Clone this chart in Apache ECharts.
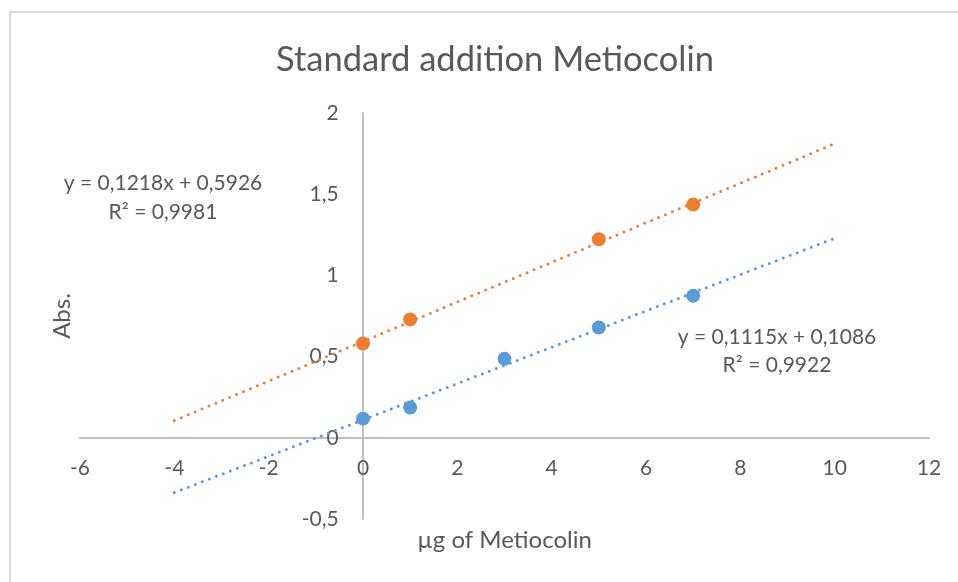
<!DOCTYPE html>
<html>
<head>
<meta charset="utf-8">
<script src="https://cdn.jsdelivr.net/npm/echarts@6/dist/echarts.min.js"></script>
<style>
html,body{margin:0;padding:0;background:#fff;}
#chart{width:958px;height:582px;}
</style>
</head>
<body>
<div id="chart"></div>
<script>
// Data
const blueX = [0, 1, 3, 5, 7];
const blueY = [0.118, 0.187, 0.486, 0.679, 0.874];
const orangeX = [0, 1, 5, 7];
const orangeY = [0.581, 0.729, 1.223, 1.436];
// trendline endpoints (x from -4 to 10)
const blueTrendX = [-4, 10];
const blueTrendY = [-0.337, 1.229];
const orangeTrendX = [-4, 10];
const orangeTrendY = [0.106, 1.811];
const blueEq = ['y = 0,1115x + 0,1086', 'R² = 0,9922'];
const orangeEq = ['y = 0,1218x + 0,5926', 'R² = 0,9981'];
const titleText = 'Standard addition Metiocolin';
const xName = 'µg of Metiocolin';
const yName = 'Abs.';
const xMin = -6, xMax = 12, xStep = 2;
const yMin = -0.5, yMax = 2, yStep = 0.5;

const BLUE = '#5B9BD5', ORANGE = '#ED7D31', TXT = '#595959', AX = '#BFBFBF';
const FONT = 'Lato, "Open Sans", sans-serif';
const zip = (xs, ys) => xs.map((x, i) => [x, ys[i]]);
const comma = v => String(v).replace('.', ',');

const chart = echarts.init(document.getElementById('chart'), null, {renderer: 'canvas'});
const dotted = c => ({color: c, width: 3, type: [0, 7.5], cap: 'round'});

// plot area: x from 80 to 929, y from 113 to 519; zero lines at x=362.7, y=437.7
const plot = {left: 80, right: 29, top: 113, bottom: 63};
const hidden = {axisLine: {show: false}, axisTick: {show: false}, axisLabel: {show: false}, splitLine: {show: false}};
const labelStyle = {fontFamily: FONT, fontSize: 21, color: TXT, formatter: comma};
const nameStyle = {fontFamily: FONT, fontSize: 24, color: TXT};

chart.setOption({
  backgroundColor: '#fff',
  animation: false,
  title: {
    text: titleText,
    left: 490, top: 37, textAlign: 'center',
    textStyle: {fontFamily: FONT, fontSize: 34.5, fontWeight: 'normal', color: TXT}
  },
  grid: [
    Object.assign({outerBoundsMode: 'none', containLabel: false}, plot),
    // helper grid whose bottom edge is the y=0 line (x tick labels + x name)
    {outerBoundsMode: 'none', containLabel: false, left: 80, right: 29, top: 113, bottom: 582 - 437.7},
    // helper grid whose left edge is the x=0 line (y tick labels + y name)
    {outerBoundsMode: 'none', containLabel: false, left: 362.7, right: 29, top: 113, bottom: 63}
  ],
  xAxis: [
    {gridIndex: 0, type: 'value', min: xMin, max: xMax, interval: xStep,
      axisLine: {onZero: true, lineStyle: {color: AX, width: 2}},
      axisTick: {show: false}, splitLine: {show: false}, axisLabel: {show: false}},
    Object.assign({gridIndex: 1, type: 'value', min: xMin, max: xMax, interval: xStep,
      name: xName, nameLocation: 'middle', nameGap: 91, nameTextStyle: nameStyle}, hidden,
      {axisLine: {show: false, onZero: false}, axisLabel: Object.assign({show: true, margin: 20}, labelStyle)}),
    Object.assign({gridIndex: 2, type: 'value', min: 0, max: xMax}, hidden, {axisLine: {show: false, onZero: false}})
  ],
  yAxis: [
    {gridIndex: 0, type: 'value', min: yMin, max: yMax, interval: yStep,
      axisLine: {show: true, onZero: true, lineStyle: {color: AX, width: 2}},
      axisTick: {show: false}, splitLine: {show: false}, axisLabel: {show: false}},
    Object.assign({gridIndex: 1, type: 'value', min: 0, max: yMax}, hidden, {axisLine: {show: false, onZero: false}}),
    Object.assign({gridIndex: 2, type: 'value', min: yMin, max: yMax, interval: yStep,
      name: yName, nameLocation: 'middle', nameGap: 288, nameRotate: 90, nameTextStyle: nameStyle}, hidden,
      {axisLine: {show: false, onZero: false}, axisLabel: Object.assign({show: true, margin: 24}, labelStyle)})
  ],
  series: [
    {type: 'line', xAxisIndex: 0, yAxisIndex: 0, data: zip(orangeTrendX, orangeTrendY), showSymbol: false, symbol: 'none',
      lineStyle: dotted(ORANGE), z: 2, silent: true},
    {type: 'line', xAxisIndex: 0, yAxisIndex: 0, data: zip(blueTrendX, blueTrendY), showSymbol: false, symbol: 'none',
      lineStyle: dotted(BLUE), z: 2, silent: true},
    {type: 'scatter', xAxisIndex: 0, yAxisIndex: 0, data: zip(blueX, blueY), symbolSize: 14,
      itemStyle: {color: BLUE, opacity: 1}, z: 3},
    {type: 'scatter', xAxisIndex: 0, yAxisIndex: 0, data: zip(orangeX, orangeY), symbolSize: 14,
      itemStyle: {color: ORANGE, opacity: 1}, z: 3}
  ],
  graphic: [
    {type: 'rect', shape: {x: 10, y: 12, width: 1200, height: 900}, silent: true, z: -1,
      style: {fill: 'none', stroke: '#D9D9D9', lineWidth: 2}},
    {type: 'text', x: 163, y: 183, style: {text: orangeEq[0], fill: TXT, font: '21px ' + FONT, textAlign: 'center', textVerticalAlign: 'middle'}},
    {type: 'text', x: 163, y: 212, style: {text: orangeEq[1], fill: TXT, font: '21px ' + FONT, textAlign: 'center', textVerticalAlign: 'middle'}},
    {type: 'text', x: 777, y: 337, style: {text: blueEq[0], fill: TXT, font: '21px ' + FONT, textAlign: 'center', textVerticalAlign: 'middle'}},
    {type: 'text', x: 777, y: 365, style: {text: blueEq[1], fill: TXT, font: '21px ' + FONT, textAlign: 'center', textVerticalAlign: 'middle'}}
  ]
});
</script>
</body>
</html>
